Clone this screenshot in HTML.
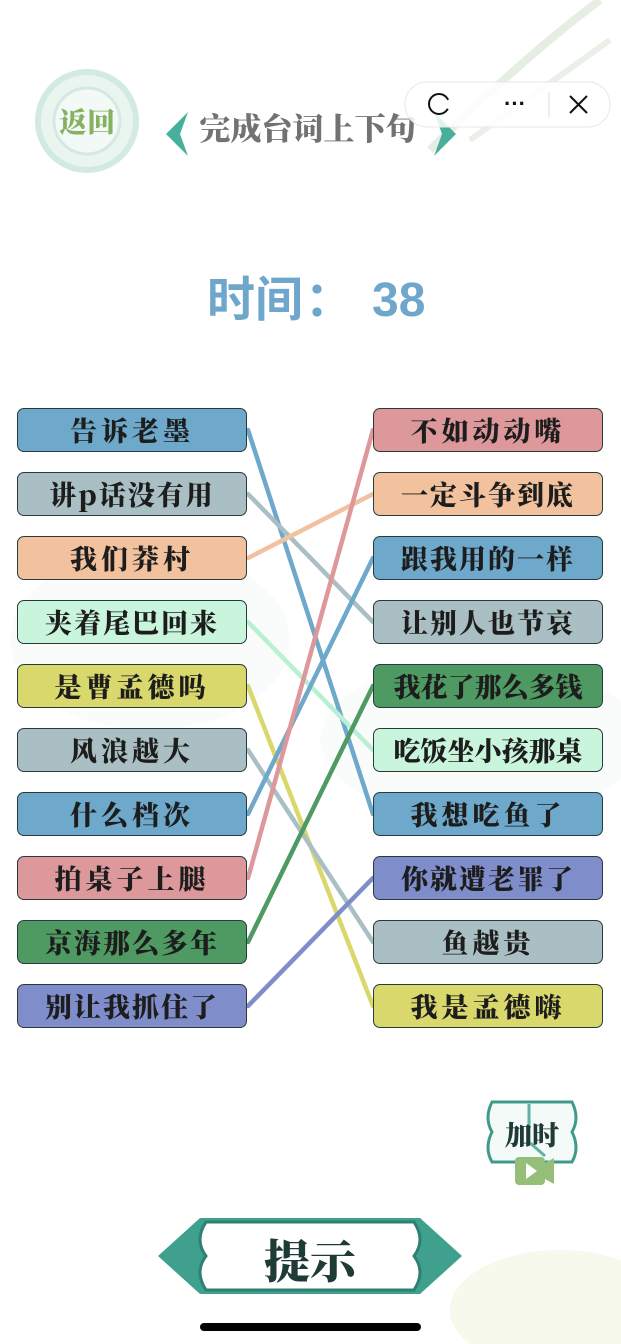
<!DOCTYPE html>
<html><head><meta charset="utf-8">
<style>
body{margin:0;width:621px;height:1344px;background:#fff;position:relative;overflow:hidden;font-family:"Liberation Sans","Noto Sans CJK SC",sans-serif;}
.b{position:absolute;width:230px;height:44px;border:1.5px solid #2a3a3a;border-radius:7px;box-sizing:border-box;font-family:"Noto Serif CJK SC","Noto Sans CJK SC",serif;font-weight:900;font-size:27px;color:#1d1d1d;text-align:center;line-height:41px;letter-spacing:4px;white-space:nowrap;overflow:hidden}
.l{left:17px}.r{left:373px}
.bl{background:#6ea8cb}.gr{background:#a9bfc3}.pe{background:#f2c29f}.mi{background:#c9f5dd}.ye{background:#d8d86c}.pi{background:#dc989a}.dg{background:#4f9a63}.pw{background:#7f8ecb}
</style></head><body>
<svg style="position:absolute;left:0;top:0" width="621" height="1344">
<path d="M430 150 Q520 60 600 0" stroke="#e6ede3" stroke-width="8" fill="none"/>
<path d="M470 140 Q540 90 610 40" stroke="#eaf0e7" stroke-width="6" fill="none"/>
<ellipse cx="560" cy="1310" rx="110" ry="60" fill="#f7f9ec"/>
<ellipse cx="150" cy="640" rx="140" ry="90" fill="#fafbfb"/>
<ellipse cx="480" cy="740" rx="160" ry="80" fill="#fafbfb"/>
<circle cx="87" cy="121" r="49" fill="#eaf5f0" stroke="#d2eae1" stroke-width="6"/>
<circle cx="87" cy="121" r="33" fill="#f3f9f6" stroke="#d4e9e1" stroke-width="3"/>
<text x="87" y="132" text-anchor="middle" font-family="Noto Serif CJK SC,serif" font-weight="900" font-size="28" fill="#86b062">返回</text>
<path d="M188 112 L166 134 L188 156 L180 134 Z" fill="#48b09a"/>
<path d="M434 112 L456 134 L434 156 L442 134 Z" fill="#48b09a"/>
<text x="308" y="140" text-anchor="middle" font-family="Noto Serif CJK SC,serif" font-weight="900" font-size="31" fill="#727272">完成台词上下句</text>
<rect x="405" y="82" width="205" height="45" rx="22" fill="#fff" fill-opacity="0.85" stroke="#e8e8e8"/>
<line x1="549" y1="92" x2="549" y2="117" stroke="#ddd"/>
<text x="515" y="111" text-anchor="middle" font-size="22" font-weight="bold" fill="#111">···</text>
<path d="M570 96 L587 113 M587 96 L570 113" stroke="#111" stroke-width="2"/>
<circle cx="439" cy="104" r="10" fill="none" stroke="#111" stroke-width="2"/>
<path d="M439 104 L450 99 L450 110 Z" fill="#fff"/>
<text x="207" y="316" font-family="Noto Sans CJK SC,sans-serif" font-weight="bold" font-size="48" fill="#6fa7cc">时间</text>
<text x="305" y="316" font-family="Noto Sans CJK SC,sans-serif" font-weight="bold" font-size="48" fill="#6fa7cc">：</text>
<text x="372" y="316" font-family="Liberation Sans,sans-serif" font-weight="bold" font-size="48" fill="#6fa7cc">38</text>
<g stroke-width="4.5" stroke-linecap="round" fill="none">
<line x1="248" y1="430" x2="373" y2="814" stroke="#6ea8cb"/>
<line x1="248" y1="494" x2="373" y2="622" stroke="#a9bfc3"/>
<line x1="248" y1="558" x2="373" y2="494" stroke="#f2c29f"/>
<line x1="248" y1="622" x2="373" y2="750" stroke="#b9f0d3"/>
<line x1="248" y1="686" x2="373" y2="1006" stroke="#d8d86c"/>
<line x1="248" y1="750" x2="373" y2="942" stroke="#a9bfc3"/>
<line x1="248" y1="814" x2="373" y2="558" stroke="#6ea8cb"/>
<line x1="248" y1="878" x2="373" y2="430" stroke="#dc989a"/>
<line x1="248" y1="942" x2="373" y2="686" stroke="#4f9a63"/>
<line x1="248" y1="1006" x2="373" y2="878" stroke="#7f8ecb"/>
</g>
<path d="M492 1102 H572 Q580 1118 572 1132 Q580 1148 572 1162 H492 Q484 1148 492 1132 Q484 1118 492 1102 Z" fill="#f4faf8" stroke="#3f9a8a" stroke-width="3"/>
<line x1="529" y1="1104" x2="529" y2="1142" stroke="#5fb3a4" stroke-width="3"/>
<line x1="529" y1="1142" x2="545" y2="1156" stroke="#5fb3a4" stroke-width="3"/>
<text x="532" y="1145" text-anchor="middle" font-family="Noto Serif CJK SC,serif" font-weight="900" font-size="27" fill="#1f3b36">加时</text>
<rect x="515" y="1157" width="30" height="28" rx="4" fill="#95bf78"/>
<path d="M545 1163 L554 1158 V1184 L545 1179 Z" fill="#95bf78"/>
<path d="M526 1163 L537 1171 L526 1179 Z" fill="#fff"/>
<path d="M158 1256 L200 1218 H420 L462 1256 L420 1294 H200 Z" fill="#3fa08e"/>
<path d="M206 1222 H414 Q426 1240 414 1256 Q426 1272 414 1290 H206 Q194 1272 206 1256 Q194 1240 206 1222 Z" fill="#fff" stroke="#2f7f72" stroke-width="3"/>
<text x="310" y="1278" text-anchor="middle" font-family="Noto Serif CJK SC,serif" font-weight="900" font-size="46" fill="#1f3b36">提示</text>
<rect x="200" y="1323" width="221" height="8" rx="4" fill="#000"/>
</svg>
<div class="b l bl" style="top:408px">告诉老墨</div>
<div class="b l gr" style="top:472px;letter-spacing:2px">讲p话没有用</div>
<div class="b l pe" style="top:536px">我们莽村</div>
<div class="b l mi" style="top:600px;letter-spacing:2px">夹着尾巴回来</div>
<div class="b l ye" style="top:664px">是曹孟德吗</div>
<div class="b l gr" style="top:728px">风浪越大</div>
<div class="b l bl" style="top:792px">什么档次</div>
<div class="b l pi" style="top:856px">拍桌子上腿</div>
<div class="b l dg" style="top:920px;letter-spacing:2px">京海那么多年</div>
<div class="b l pw" style="top:984px;letter-spacing:2px">别让我抓住了</div>
<div class="b r pi" style="top:408px">不如动动嘴</div>
<div class="b r pe" style="top:472px;letter-spacing:2px">一定斗争到底</div>
<div class="b r bl" style="top:536px;letter-spacing:2px">跟我用的一样</div>
<div class="b r gr" style="top:600px;letter-spacing:2px">让别人也节哀</div>
<div class="b r dg" style="top:664px;letter-spacing:0">我花了那么多钱</div>
<div class="b r mi" style="top:728px;letter-spacing:0">吃饭坐小孩那桌</div>
<div class="b r bl" style="top:792px">我想吃鱼了</div>
<div class="b r pw" style="top:856px;letter-spacing:2px">你就遭老罪了</div>
<div class="b r gr" style="top:920px">鱼越贵</div>
<div class="b r ye" style="top:984px">我是孟德嗨</div>
</body></html>
